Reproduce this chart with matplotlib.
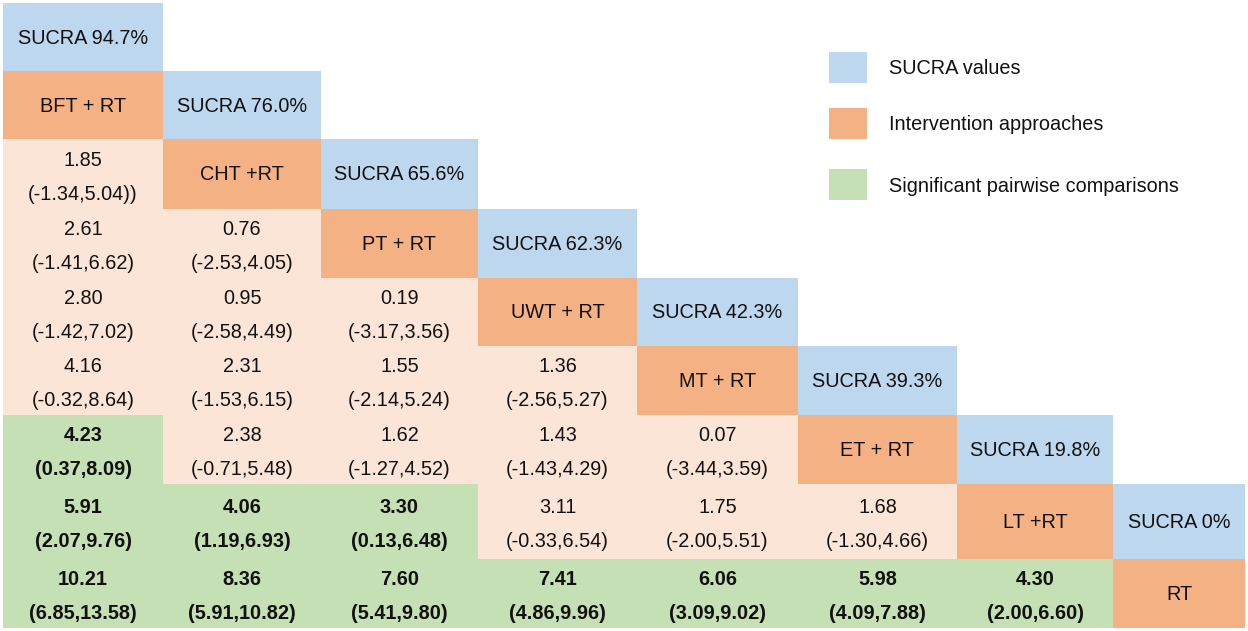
import matplotlib.pyplot as plt
from matplotlib.patches import Rectangle

plt.rcParams['font.family'] = ['Liberation Sans', 'DejaVu Sans']

# treatments in ranking order, with SUCRA values (%)
treatments = ['BFT + RT', 'CHT +RT', 'PT + RT', 'UWT + RT', 'MT + RT', 'ET + RT', 'LT +RT', 'RT']
sucra = [94.7, 76.0, 65.6, 62.3, 42.3, 39.3, 19.8, 0]

# pairwise estimates, one list per table row (row 2 .. row 8)
estimates = [
    [1.85],
    [2.61, 0.76],
    [2.80, 0.95, 0.19],
    [4.16, 2.31, 1.55, 1.36],
    [4.23, 2.38, 1.62, 1.43, 0.07],
    [5.91, 4.06, 3.30, 3.11, 1.75, 1.68],
    [10.21, 8.36, 7.60, 7.41, 6.06, 5.98, 4.30],
]
lower = [
    [-1.34],
    [-1.41, -2.53],
    [-1.42, -2.58, -3.17],
    [-0.32, -1.53, -2.14, -2.56],
    [0.37, -0.71, -1.27, -1.43, -3.44],
    [2.07, 1.19, 0.13, -0.33, -2.00, -1.30],
    [6.85, 5.91, 5.41, 4.86, 3.09, 4.09, 2.00],
]
upper = [
    [5.04],
    [6.62, 4.05],
    [7.02, 4.49, 3.56],
    [8.64, 6.15, 5.24, 5.27],
    [8.09, 5.48, 4.52, 4.29, 3.59],
    [9.76, 6.93, 6.48, 6.54, 5.51, 4.66],
    [13.58, 10.82, 9.80, 9.96, 9.02, 7.88, 6.60],
]

legend_labels = ['SUCRA values', 'Intervention approaches', 'Significant pairwise comparisons']

# colours
c_sucra = '#BDD7EE'
c_treat = '#F4B183'
c_cell = '#FBE5D6'
c_sig = '#C5E0B4'

# pixel grid of the table
col_edges = [3, 163, 321, 478, 637, 798, 957, 1113, 1245]
row_edges = [3, 71, 139, 209, 278, 346, 415, 484, 559, 628]

fig = plt.figure(figsize=(12.48, 6.31), dpi=100)
ax = fig.add_axes([0, 0, 1, 1])
ax.set_xlim(0, 1248)
ax.set_ylim(631, 0)
ax.axis('off')

fs = 14.3


def cell(r, c, color):
    x0, x1 = col_edges[c], col_edges[c + 1]
    y0, y1 = row_edges[r], row_edges[r + 1]
    ax.add_patch(Rectangle((x0, y0), x1 - x0, y1 - y0, facecolor=color, edgecolor='none'))
    return (x0 + x1) / 2, (y0 + y1) / 2


# SUCRA boxes and treatment names on the diagonal
for k, name in enumerate(treatments):
    v = sucra[k]
    cx, cy = cell(k, k, c_sucra)
    lab = 'SUCRA {:.1f}%'.format(v) if v else 'SUCRA 0%'
    ax.text(cx, cy + 1, lab, ha='center', va='center', fontsize=fs, color='#111111')
    cx, cy = cell(k + 1, k, c_treat)
    ax.text(cx, cy + 1, name, ha='center', va='center', fontsize=fs, color='#111111')

# pairwise comparisons
for i, row in enumerate(estimates):
    r = i + 2
    for c, est in enumerate(row):
        sig = lower[i][c] > 0
        cx, cy = cell(r, c, c_sig if sig else c_cell)
        ci = '({:.2f},{:.2f})'.format(lower[i][c], upper[i][c])
        if r == 2 and c == 0:
            ci += ')'  # as printed in the original table
        w = 'bold' if sig else 'normal'
        ax.text(cx, cy - 14, '{:.2f}'.format(est), ha='center', va='center',
                fontsize=fs, fontweight=w, color='#111111')
        ax.text(cx, cy + 20, ci, ha='center', va='center',
                fontsize=fs, fontweight=w, color='#111111')

# legend
leg_y = [52, 108, 169]
for lab, col, y in zip(legend_labels, [c_sucra, c_treat, c_sig], leg_y):
    ax.add_patch(Rectangle((829, y), 38, 31, facecolor=col, edgecolor='none'))
    ax.text(889, y + 17, lab, ha='left', va='center', fontsize=fs, color='#111111')

fig.savefig('out.png', dpi=100)
